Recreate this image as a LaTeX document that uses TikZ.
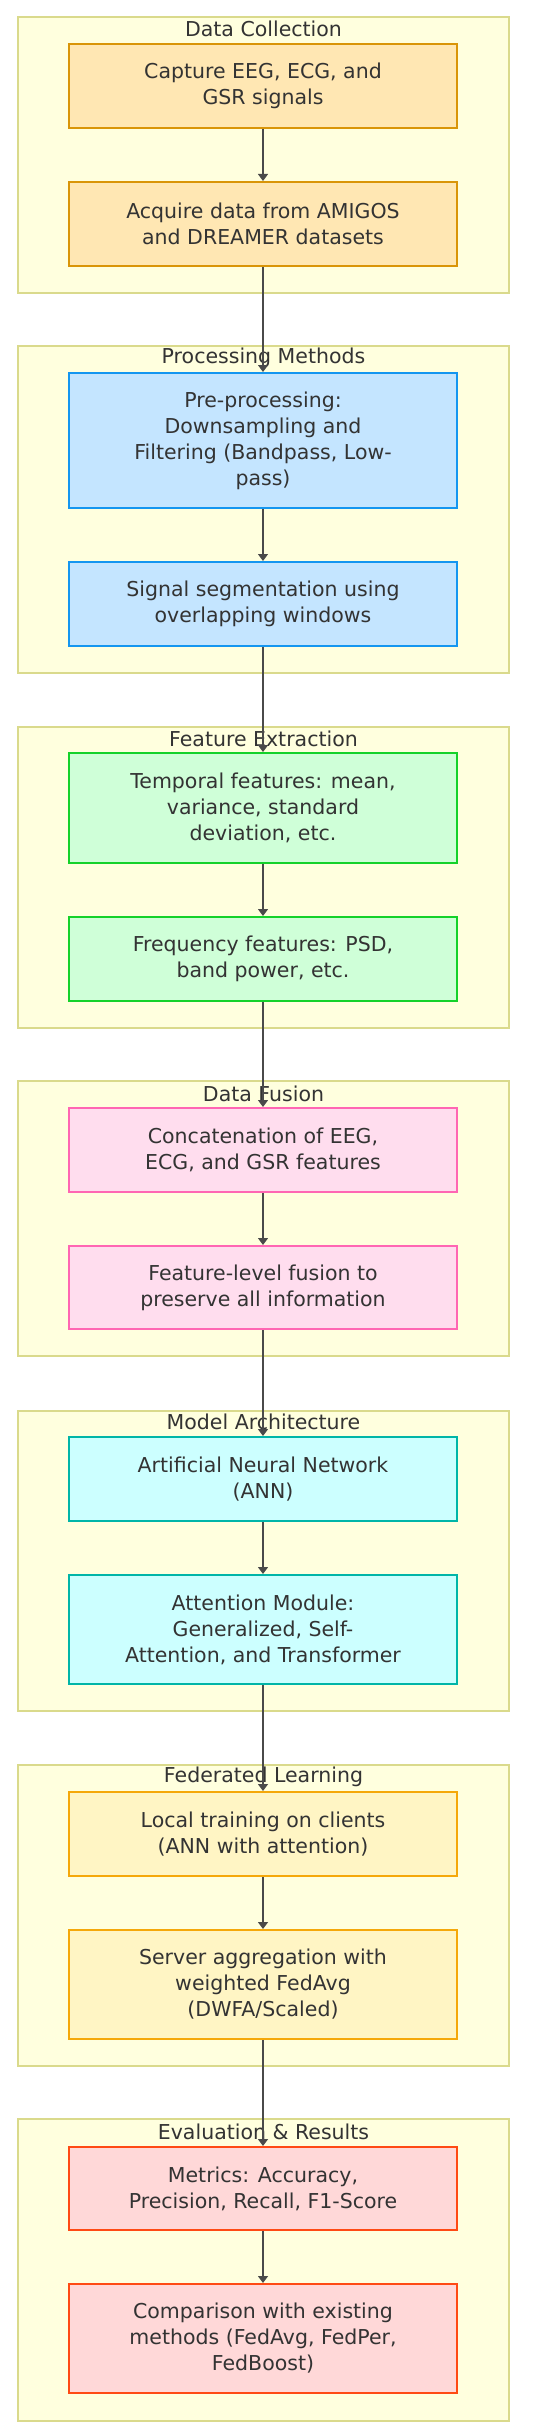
\documentclass[tikz,border=0pt]{standalone}
\usepackage{fontspec}
\setmainfont{DejaVu Sans}
\usetikzlibrary{arrows.meta}
\definecolor{txt}{HTML}{333333}
\definecolor{edgec}{HTML}{4A4A4A}
\definecolor{clfill}{HTML}{FFFFDE}
\definecolor{cldraw}{HTML}{DADA8C}
\definecolor{dcfill}{HTML}{FFE7B3}
\definecolor{dcdraw}{HTML}{D99508}
\definecolor{pmfill}{HTML}{C4E5FF}
\definecolor{pmdraw}{HTML}{1496F0}
\definecolor{fefill}{HTML}{CFFFD8}
\definecolor{fedraw}{HTML}{14D22A}
\definecolor{dffill}{HTML}{FFDDEE}
\definecolor{dfdraw}{HTML}{FF66B3}
\definecolor{mafill}{HTML}{CCFFFF}
\definecolor{madraw}{HTML}{00B5A8}
\definecolor{flfill}{HTML}{FFF5C4}
\definecolor{fldraw}{HTML}{F5A80A}
\definecolor{evfill}{HTML}{FFD8D8}
\definecolor{evdraw}{HTML}{FF4A14}
\tikzset{
  x=1pt, y=-1pt,
  every node/.style={font=\fontsize{20.5}{26}\selectfont, text=txt},
  proc/.style={rectangle, draw, line width=2pt, minimum width=388pt, align=center, inner sep=0pt},
  clusterbox/.style={fill=clfill, draw=cldraw, line width=1.5pt},
  ctitle/.style={anchor=center, inner sep=0pt},
  flow/.style={draw=edgec, line width=1.3pt, -{Triangle[width=10pt,length=7pt]}}
}
\begin{document}
\begin{tikzpicture}
\useasboundingbox (0,0) rectangle (550,2435);
\fill[white] (0,0) rectangle (550,2435);
% clusters
\draw[clusterbox] (18,17) rectangle (509,293);
\draw[clusterbox] (18,346) rectangle (509,673);
\draw[clusterbox] (18,727) rectangle (509,1028);
\draw[clusterbox] (18,1081) rectangle (509,1356);
\draw[clusterbox] (18,1411) rectangle (509,1711);
\draw[clusterbox] (18,1765) rectangle (509,2066);
\draw[clusterbox] (18,2119) rectangle (509,2421);
% titles
\node[ctitle] (t1) at (263.5,29) {Data Collection};
\node[ctitle] (t2) at (263.5,358) {Processing Methods};
\node[ctitle] (t3) at (263.5,739) {Feature Extraction};
\node[ctitle] (t4) at (263.5,1094) {Data Fusion};
\node[ctitle] (t5) at (263.5,1422) {Model Architecture};
\node[ctitle] (t6) at (263.5,1777) {Federated Learning};
\node[ctitle] (t7) at (263.5,2132) {Evaluation \& Results};
% nodes
\node[proc, fill=dcfill, draw=dcdraw, minimum height=84pt] (n1) at (263,86) {Capture EEG, ECG, and\\GSR signals};
\node[proc, fill=dcfill, draw=dcdraw, minimum height=84pt] (n2) at (263,224) {Acquire data from AMIGOS\\and DREAMER datasets};
\node[proc, fill=pmfill, draw=pmdraw, minimum height=135pt] (n3) at (263,440.5) {Pre-processing:\\Downsampling and\\Filtering (Bandpass, Low-\\pass)};
\node[proc, fill=pmfill, draw=pmdraw, minimum height=84pt] (n4) at (263,604) {Signal segmentation using\\overlapping windows};
\node[proc, fill=fefill, draw=fedraw, minimum height=110pt] (n5) at (263,808) {Temporal features: mean,\\variance, standard\\deviation, etc.};
\node[proc, fill=fefill, draw=fedraw, minimum height=84pt] (n6) at (263,959) {Frequency features: PSD,\\band power, etc.};
\node[proc, fill=dffill, draw=dfdraw, minimum height=84pt] (n7) at (263,1150) {Concatenation of EEG,\\ECG, and GSR features};
\node[proc, fill=dffill, draw=dfdraw, minimum height=83pt] (n8) at (263,1287.5) {Feature-level fusion to\\preserve all information};
\node[proc, fill=mafill, draw=madraw, minimum height=84pt] (n9) at (263,1479) {Artificial Neural Network\\(ANN)};
\node[proc, fill=mafill, draw=madraw, minimum height=109pt] (n10) at (263,1629.5) {Attention Module:\\Generalized, Self-\\Attention, and Transformer};
\node[proc, fill=flfill, draw=fldraw, minimum height=84pt] (n11) at (263,1834) {Local training on clients\\(ANN with attention)};
\node[proc, fill=flfill, draw=fldraw, minimum height=109pt] (n12) at (263,1984.5) {Server aggregation with\\weighted FedAvg\\(DWFA/Scaled)};
\node[proc, fill=evfill, draw=evdraw, minimum height=83pt] (n13) at (263,2188.5) {Metrics: Accuracy,\\Precision, Recall, F1-Score};
\node[proc, fill=evfill, draw=evdraw, minimum height=109pt] (n14) at (263,2338.5) {Comparison with existing\\methods (FedAvg, FedPer,\\FedBoost)};
% edges
\foreach \a/\b in {n1/n2,n2/n3,n3/n4,n4/n5,n5/n6,n6/n7,n7/n8,n8/n9,n9/n10,n10/n11,n11/n12,n12/n13,n13/n14}
  \draw[flow] (\a.south) -- (\b.north);
\end{tikzpicture}
\end{document}
